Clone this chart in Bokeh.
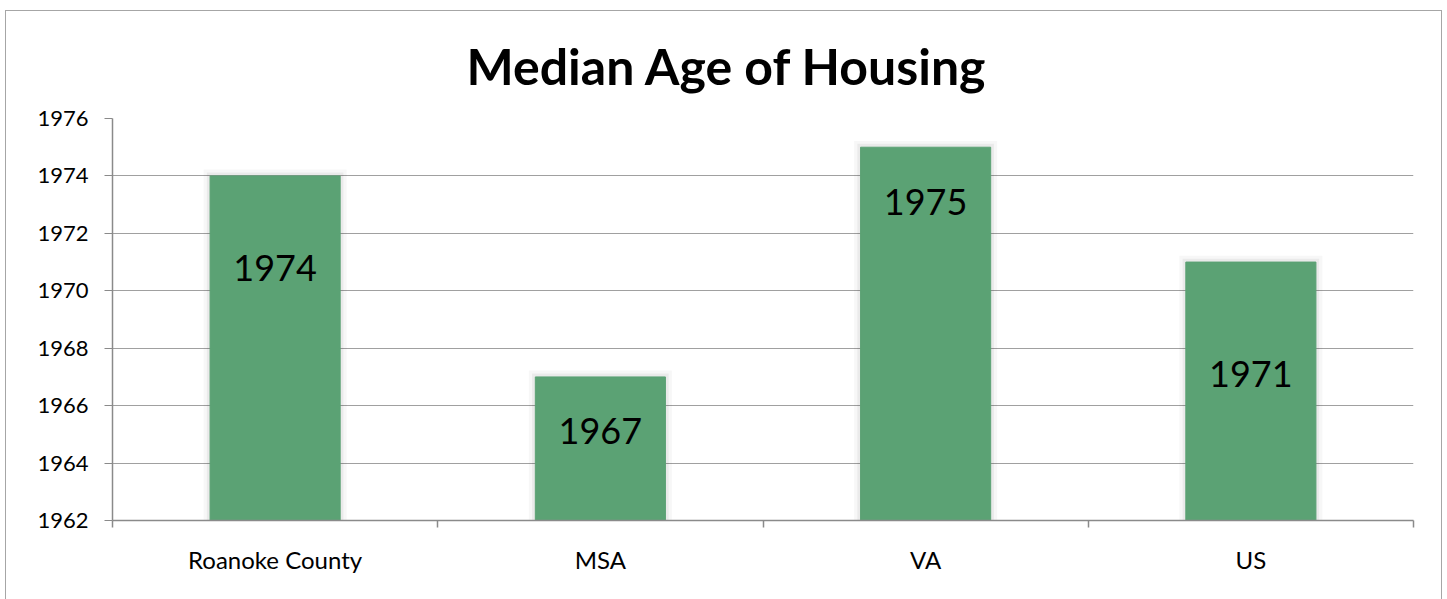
from bokeh.plotting import figure
from bokeh.models import ColumnDataSource, FixedTicker, Range1d, LabelSet
from bokeh.core.properties import value
from bokeh.embed import file_html
from bokeh.resources import INLINE

title_text = "Median Age of Housing"
categories = ["Roanoke County", "MSA", "VA", "US"]
median_year = [1974, 1967, 1975, 1971]
label_pos = [1970.8, 1965.1, 1973.1, 1967.1]
y_ticks = [1962, 1964, 1966, 1968, 1970, 1972, 1974, 1976]

FONT = "Lato"

# category slots: centre of slot i is i + 0.5, boundaries at integers
centres = [i + 0.5 for i in range(len(categories))]
bounds = [float(i) for i in range(len(categories) + 1)]

src = ColumnDataSource(dict(x=centres, val=median_year,
                            lab=[str(v) for v in median_year], ly=label_pos,
                            sh1=[v + 0.12 for v in median_year],
                            sh2=[v + 0.22 for v in median_year]))

p = figure(x_range=Range1d(0, len(categories)), y_range=Range1d(1962, 1976),
           width=1437, height=592, output_backend="svg", toolbar_location=None,
           min_border_left=106, min_border_right=30, min_border_top=107, min_border_bottom=83,
           title=title_text)
p.styles = {"position": "absolute", "left": "5px", "top": "10px",
            "border": "1px solid #a6a6a6"}

p.title.align = "left"
p.title.text_font = FONT
p.title.text_font_style = "bold"
p.title.text_font_size = "50px"
p.title.text_color = "black"
p.title.standoff = 45
p.title.offset = 354

# soft shadow behind bars
p.vbar(x="x", top="sh2", bottom=1962, width=0.44, source=src,
       fill_color="#000000", fill_alpha=0.03, line_color=None)
p.vbar(x="x", top="sh1", bottom=1962, width=0.42, source=src,
       fill_color="#000000", fill_alpha=0.05, line_color=None)
p.vbar(x="x", top="val", bottom=1962, width=0.4, source=src,
       fill_color="#5ba274", line_color="#5ba274")

labels = LabelSet(x="x", y="ly", text="lab", source=src, text_align="center",
                  text_baseline="middle", text_font=value(FONT),
                  text_font_size="36px", text_color="black")
p.add_layout(labels)

p.outline_line_color = None
p.xgrid.grid_line_color = None
p.ygrid.grid_line_color = "#a0a0a0"
p.ygrid.grid_line_width = 1.2
p.yaxis.ticker = FixedTicker(ticks=y_ticks)
p.yaxis.major_label_text_font = FONT
p.yaxis.major_label_text_font_size = "22px"
p.yaxis.major_label_text_color = "black"
p.yaxis.axis_line_color = "#8a8a8a"
p.yaxis.axis_line_width = 1.5
p.yaxis.major_tick_line_color = "#8a8a8a"
p.yaxis.major_tick_out = 8
p.yaxis.major_tick_in = 0
p.yaxis.minor_tick_line_color = None
p.yaxis.major_label_standoff = 16

xaxis = p.xaxis[0]
xaxis.ticker = FixedTicker(ticks=centres, minor_ticks=bounds)
xaxis.major_label_overrides = {c: name for c, name in zip(centres, categories)}
xaxis.major_label_text_font = FONT
xaxis.major_label_text_font_size = "24px"
xaxis.major_label_text_color = "black"
xaxis.axis_line_color = "#8a8a8a"
xaxis.axis_line_width = 1.5
xaxis.major_tick_line_color = None
xaxis.major_tick_out = 0
xaxis.major_tick_in = 0
xaxis.minor_tick_line_color = "#8a8a8a"
xaxis.minor_tick_line_width = 1.5
xaxis.minor_tick_out = 7
xaxis.minor_tick_in = 0
xaxis.major_label_standoff = 17

open("out.html", "w").write(file_html(p, INLINE))
